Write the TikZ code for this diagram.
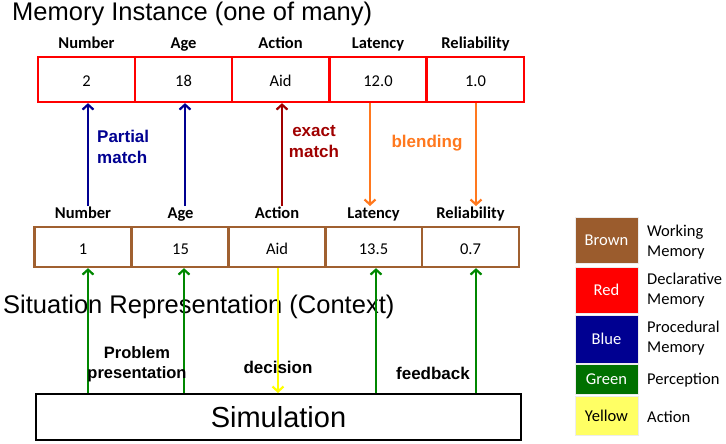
\documentclass[tikz,border=0pt]{standalone}
\usepackage{fontspec}
\setmainfont{Carlito}
\newfontfamily\arialf{Liberation Sans}
\usetikzlibrary{arrows.meta,calc}
\definecolor{brownc}{RGB}{160,96,48}
\definecolor{legbrown}{RGB}{155,92,45}
\definecolor{navyc}{RGB}{0,0,145}
\definecolor{darkredc}{RGB}{160,0,0}
\definecolor{orangec}{RGB}{255,120,30}
\definecolor{greenc}{RGB}{0,135,0}
\definecolor{leggreen}{RGB}{0,112,0}
\definecolor{yellowc}{RGB}{255,255,0}
\definecolor{legyellow}{RGB}{255,255,100}
\begin{document}
\begin{tikzpicture}[x=1pt,y=-1pt,
  topcell/.style={draw=red, line width=2.3pt, minimum width=97pt, minimum height=45pt, inner sep=0pt, text height=13pt, text depth=0pt, font=\fontsize{16.5}{18}\selectfont},
  botcell/.style={draw=brownc, line width=2.3pt, minimum width=97pt, minimum height=40pt, inner sep=0pt, text height=14pt, text depth=0pt, font=\fontsize{16.5}{18}\selectfont},
  hdr/.style={anchor=base, font=\bfseries\fontsize{16.5}{18}\selectfont, inner sep=1pt},
  bigtxt/.style={font=\arialf\fontsize{25.5}{28}\selectfont, inner sep=0pt},
  arlabel/.style={font=\arialf\bfseries\fontsize{17}{21}\selectfont, inner sep=0pt},
  arr/.style={line width=2.6pt, -{Straight Barb[length=5pt,width=11pt,line width=2.2pt]}},
  legbox/.style={minimum width=63pt, inner sep=0pt, draw=white!85!gray, line width=0.6pt, font=\fontsize{16.5}{18}\selectfont},
  legtxt/.style={anchor=west, align=left, inner sep=0pt, font=\fontsize{16.5}{20}\selectfont}
]
\useasboundingbox (0,0) rectangle (726,444);

% titles
\node[bigtxt, anchor=base west] (title) at (12,21) {Memory Instance (one of many)};
\node[bigtxt, anchor=base west] (situ) at (3,313) {Situation Representation (Context)};

% top table
\node[topcell] (t1) at (86.5,79.5) {2};
\node[topcell] (t2) at (183.5,79.5) {18};
\node[topcell] (t3) at (280.5,79.5) {Aid};
\node[topcell] (t4) at (378,79.5) {12.0};
\node[topcell] (t5) at (475.5,79.5) {1.0};
\node[hdr] (ht1) at (86.5,49) {Number};
\node[hdr] (ht2) at (183.5,49) {Age};
\node[hdr] (ht3) at (280.5,49) {Action};
\node[hdr] (ht4) at (378,49) {Latency};
\node[hdr] (ht5) at (475.5,49) {Reliability};

% bottom table
\node[botcell] (b1) at (83,247) {1};
\node[botcell] (b2) at (180.5,247) {15};
\node[botcell] (b3) at (277,247) {Aid};
\node[botcell] (b4) at (373.5,247) {13.5};
\node[botcell] (b5) at (470.5,247) {0.7};
\node[hdr] (hb1) at (83,218) {Number};
\node[hdr] (hb2) at (180.5,218) {Age};
\node[hdr] (hb3) at (277,218) {Action};
\node[hdr] (hb4) at (373.5,218) {Latency};
\node[hdr] (hb5) at (470.5,218) {Reliability};

% simulation
\node[draw=black, line width=2pt, minimum width=485pt, minimum height=46pt, inner sep=0pt, font=\arialf\fontsize{29}{32}\selectfont] (sim) at (278.5,417) {Simulation};

% arrow x positions
\coordinate (x1) at (88,0);
\coordinate (x2) at (185,0);
\coordinate (x3) at (282,0);
\coordinate (x4) at (370,0);
\coordinate (x5) at (476,0);
\coordinate (g1) at (88,0);
\coordinate (g2) at (184,0);
\coordinate (g3) at (278,0);
\coordinate (g4) at (376,0);
\coordinate (g5) at (476,0);
\coordinate (lowend) at (0,206);

% upper arrows
\draw[arr, navyc] (lowend -| x1) -- (t1.south -| x1);
\draw[arr, navyc] (lowend -| x2) -- (t2.south -| x2);
\draw[arr, darkredc] (lowend -| x3) -- (t3.south -| x3);
\draw[arr, orangec] (t4.south -| x4) -- (lowend -| x4);
\draw[arr, orangec] (t5.south -| x5) -- (lowend -| x5);

% lower arrows
\draw[arr, greenc] (sim.north -| g1) -- (b1.south -| g1);
\draw[arr, greenc] (sim.north -| g2) -- (b2.south -| g2);
\draw[arr, yellowc] (b3.south -| g3) -- (sim.north -| g3);
\draw[arr, greenc] (sim.north -| g4) -- (b4.south -| g4);
\draw[arr, greenc] (sim.north -| g5) -- (b5.south -| g5);

% arrow labels
\node[arlabel, navyc, anchor=west, align=left] (lpm) at (97,147) {Partial\\match};
\node[arlabel, darkredc, align=center] (lem) at (314,142) {exact\\match};
\node[arlabel, orangec] (lbl) at (427,143) {blending};
\node[arlabel, align=center, font=\arialf\bfseries\fontsize{16.5}{20}\selectfont] (lpp) at (137,364) {Problem\\presentation};
\node[arlabel] (ldec) at (278,367) {decision};
\node[arlabel] (lfb) at (433,373) {feedback};

% legend
\node[legbox, fill=legbrown, minimum height=46pt, text=white] (lg1) at (606.5,240) {Brown};
\node[legbox, fill=red, minimum height=46pt, text=white] (lg2) at (606.5,290) {Red};
\node[legbox, fill=navyc, minimum height=48pt, text=white] (lg3) at (606.5,339) {Blue};
\node[legbox, fill=leggreen, minimum height=30pt, text=white] (lg4) at (606.5,379) {Green};
\node[legbox, fill=legyellow, minimum height=39pt, text=black] (lg5) at (606.5,415.5) {Yellow};
\node[legtxt] (lt1) at (647,242) {Working\\Memory};
\node[legtxt] (lt2) at (647,290) {Declarative\\Memory};
\node[legtxt] (lt3) at (647,338) {Procedural\\Memory};
\node[legtxt] (lt4) at (647,380) {Perception};
\node[legtxt] (lt5) at (647,417) {Action};
\end{tikzpicture}
\end{document}
